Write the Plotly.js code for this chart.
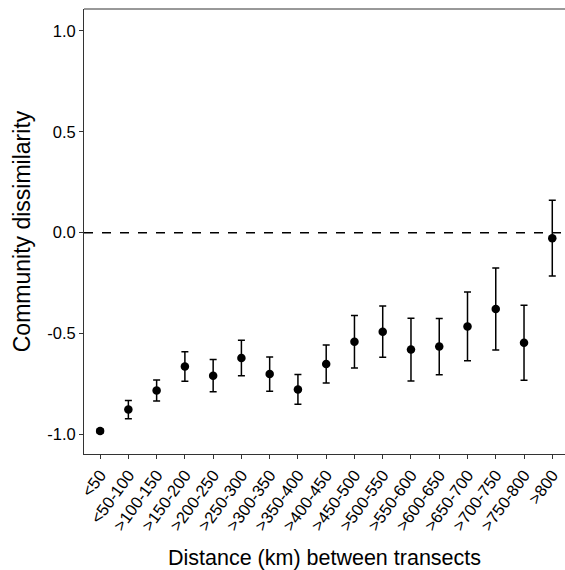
<!DOCTYPE html>
<html>
<head>
<meta charset="utf-8">
<script src="https://cdn.plot.ly/plotly-3.0.1.min.js"></script>
<style>html,body{margin:0;padding:0;background:#fff;}</style>
</head>
<body>
<div id="chart" style="width:565px;height:570px;"></div>
<script>
var categories = ["<50","<50-100",">100-150",">150-200",">200-250",">250-300",">300-350",">350-400",">400-450",">450-500",">500-550",">550-600",">600-650",">650-700",">700-750",">750-800",">800"];
var meanValues = [-0.982,-0.876,-0.781,-0.663,-0.708,-0.621,-0.700,-0.776,-0.650,-0.540,-0.490,-0.579,-0.564,-0.464,-0.378,-0.545,-0.027];
var errValues = [0.010,0.045,0.052,0.073,0.080,0.088,0.085,0.074,0.094,0.130,0.127,0.155,0.139,0.170,0.203,0.186,0.188];
var yTickVals = [-1.0,-0.5,0.0,0.5,1.0];
var yTickText = ["-1.0","-0.5","0.0","0.5","1.0"];

var trace = {
  type: "scatter",
  mode: "markers",
  x: categories,
  y: meanValues,
  marker: {color: "#000000", size: 8.5},
  error_y: {type: "data", array: errValues, visible: true, color: "#000000", thickness: 1.5, width: 3.5},
  hoverinfo: "x+y",
  showlegend: false
};

var fam = "Liberation Sans, Arial, sans-serif";

var layout = {
  width: 565,
  height: 570,
  margin: {l: 84, r: 0, t: 9, b: 116, pad: 0},
  paper_bgcolor: "#ffffff",
  plot_bgcolor: "#ffffff",
  font: {family: fam, color: "#000000"},
  showlegend: false,
  xaxis: {
    type: "category",
    range: [-0.57, 16.45],
    showgrid: false,
    zeroline: false,
    showline: true,
    linecolor: "#333333",
    linewidth: 1,
    ticks: "outside",
    ticklen: 4,
    tickwidth: 1,
    tickcolor: "#333333",
    tickangle: -54,
    tickfont: {family: fam, size: 16.5, color: "#000000"},
    title: {text: "Distance (km) between transects", font: {family: fam, size: 21.5, color: "#000000"}, standoff: 17}
  },
  yaxis: {
    range: [-1.096, 1.108],
    tickvals: yTickVals,
    ticktext: yTickText,
    showgrid: false,
    zeroline: false,
    showline: true,
    linecolor: "#333333",
    linewidth: 1,
    ticks: "outside",
    ticklen: 4,
    tickwidth: 1,
    tickcolor: "#333333",
    tickfont: {family: fam, size: 16.5, color: "#000000"},
    title: {text: "Community dissimilarity", font: {family: fam, size: 23, color: "#000000"}, standoff: 10}
  },
  shapes: [
    {type: "line", xref: "paper", yref: "y", x0: 0, x1: 1, y0: 0, y1: 0, line: {color: "#000000", width: 1.5, dash: "dash"}, layer: "below"},
    {type: "line", xref: "paper", yref: "paper", x0: 0, x1: 1, y0: 1, y1: 1, line: {color: "#333333", width: 1}}
  ]
};

Plotly.newPlot("chart", [trace], layout, {displayModeBar: false, staticPlot: true});
</script>
</body>
</html>
